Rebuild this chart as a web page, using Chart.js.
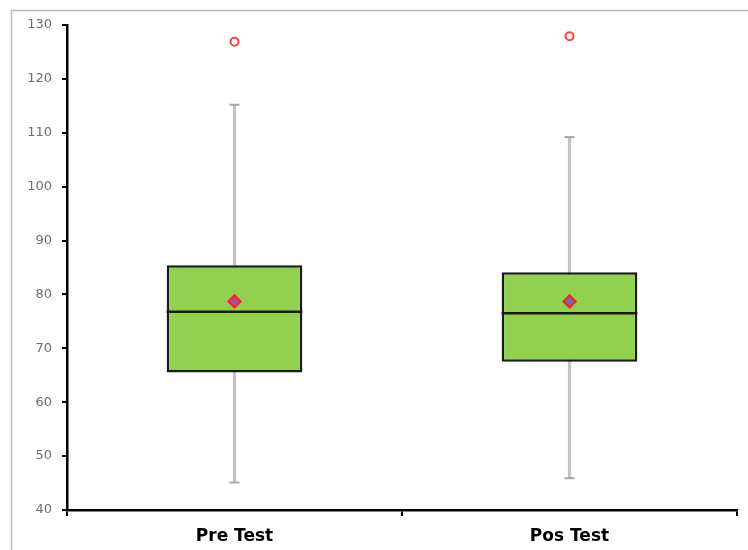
<!DOCTYPE html>
<html>
<head>
<meta charset="utf-8">
<script src="https://cdn.jsdelivr.net/npm/chart.js@4/dist/chart.umd.min.js"></script>
<style>
  html, body { margin: 0; padding: 0; background: #fff; overflow: hidden; }
  #wrap { width: 748px; height: 550px; position: relative; }
</style>
</head>
<body>
<div id="wrap"><canvas id="c" width="748" height="550"></canvas></div>
<script>
const categories = ['Pre Test', 'Pos Test'];
const minVals    = [45.1, 45.9];
const q1Vals     = [65.5, 67.5];
const medianVals = [76.8, 76.5];
const q3Vals     = [85.4, 84.1];
const maxVals    = [115.2, 109.2];
const meanVals   = [78.7, 78.7];
const outlierVals = [126.9, 127.9];
const yTicks = [40, 50, 60, 70, 80, 90, 100, 110, 120, 130];

const framePlugin = {
  id: 'frame',
  beforeDraw(chart) {
    const ctx = chart.ctx;
    ctx.save();
    ctx.strokeStyle = '#b8b8b8';
    ctx.lineWidth = 1.5;
    ctx.beginPath();
    ctx.moveTo(11.5, 550);
    ctx.lineTo(11.5, 10.5);
    ctx.lineTo(748, 10.5);
    ctx.stroke();
    ctx.restore();
  }
};

const medianPlugin = {
  id: 'medianLine',
  afterDatasetsDraw(chart) {
    const meta = chart.getDatasetMeta(1);
    const yScale = chart.scales.y;
    const ctx = chart.ctx;
    ctx.save();
    ctx.strokeStyle = '#1a1a1a';
    ctx.lineWidth = 2.5;
    meta.data.forEach((el, i) => {
      const y = yScale.getPixelForValue(medianVals[i]);
      ctx.beginPath();
      ctx.moveTo(el.x - el.width / 2, y);
      ctx.lineTo(el.x + el.width / 2, y);
      ctx.stroke();
    });
    ctx.restore();
    const m = chart.getDatasetMeta(4);
    m.data.forEach(p => p.draw(ctx, chart.chartArea));
  }
};

new Chart(document.getElementById('c'), {
  type: 'bar',
  data: {
    labels: categories,
    datasets: [
      {
        type: 'bar',
        label: 'whisker',
        data: categories.map((c, i) => [minVals[i], maxVals[i]]),
        backgroundColor: '#c4c4c4',
        borderWidth: 0,
        barThickness: 2.5,
        grouped: false,
        order: 5
      },
      {
        type: 'bar',
        label: 'box',
        data: categories.map((c, i) => [q1Vals[i], q3Vals[i]]),
        backgroundColor: '#92d050',
        borderColor: '#1a1a1a',
        borderWidth: 2.5,
        borderSkipped: false,
        barPercentage: 0.405,
        categoryPercentage: 1.0,
        grouped: false,
        order: 4
      },
      {
        type: 'line',
        label: 'max cap',
        data: maxVals,
        showLine: false,
        pointStyle: 'line',
        pointRadius: 5,
        borderColor: '#a8a8a8',
        borderWidth: 2,
        order: 3
      },
      {
        type: 'line',
        label: 'min cap',
        data: minVals,
        showLine: false,
        pointStyle: 'line',
        pointRadius: 5,
        borderColor: '#a8a8a8',
        borderWidth: 2,
        order: 3
      },
      {
        type: 'line',
        label: 'mean',
        data: meanVals,
        showLine: false,
        pointStyle: 'rectRot',
        pointRadius: 6,
        backgroundColor: '#8a5fa6',
        borderColor: '#ff2020',
        borderWidth: 2,
        order: 1
      },
      {
        type: 'line',
        label: 'outlier',
        data: outlierVals,
        showLine: false,
        pointStyle: 'circle',
        pointRadius: 4,
        backgroundColor: '#ffffff',
        borderColor: '#ff4040',
        borderWidth: 2,
        order: 1
      }
    ]
  },
  options: {
    responsive: false,
    animation: false,
    events: [],
    layout: { padding: { left: 0, top: 25, right: 11, bottom: 0 } },
    plugins: { legend: { display: false }, tooltip: { enabled: false } },
    scales: {
      x: {
        offset: true,
        grid: {
          offset: true,
          drawOnChartArea: false,
          drawTicks: true,
          tickLength: 6,
          color: '#000',
          lineWidth: 2
        },
        border: { display: true, color: '#000', width: 2.5 },
        ticks: {
          color: '#000',
          padding: 10,
          font: { family: 'DejaVu Sans', size: 17, weight: 'bold' }
        },
        afterFit(scale) { scale.height = 40; }
      },
      y: {
        min: 40,
        max: 130,
        afterBuildTicks(scale) { scale.ticks = yTicks.map(v => ({ value: v })); },
        grid: {
          drawOnChartArea: false,
          drawTicks: true,
          tickLength: 5,
          color: '#000',
          lineWidth: 2
        },
        border: { display: true, color: '#000', width: 2.5 },
        ticks: {
          color: '#6e6e6e',
          padding: 10,
          font: { family: 'DejaVu Sans', size: 13 }
        },
        afterFit(scale) { scale.width = 67; }
      }
    }
  },
  plugins: [framePlugin, medianPlugin]
});
</script>
</body>
</html>
